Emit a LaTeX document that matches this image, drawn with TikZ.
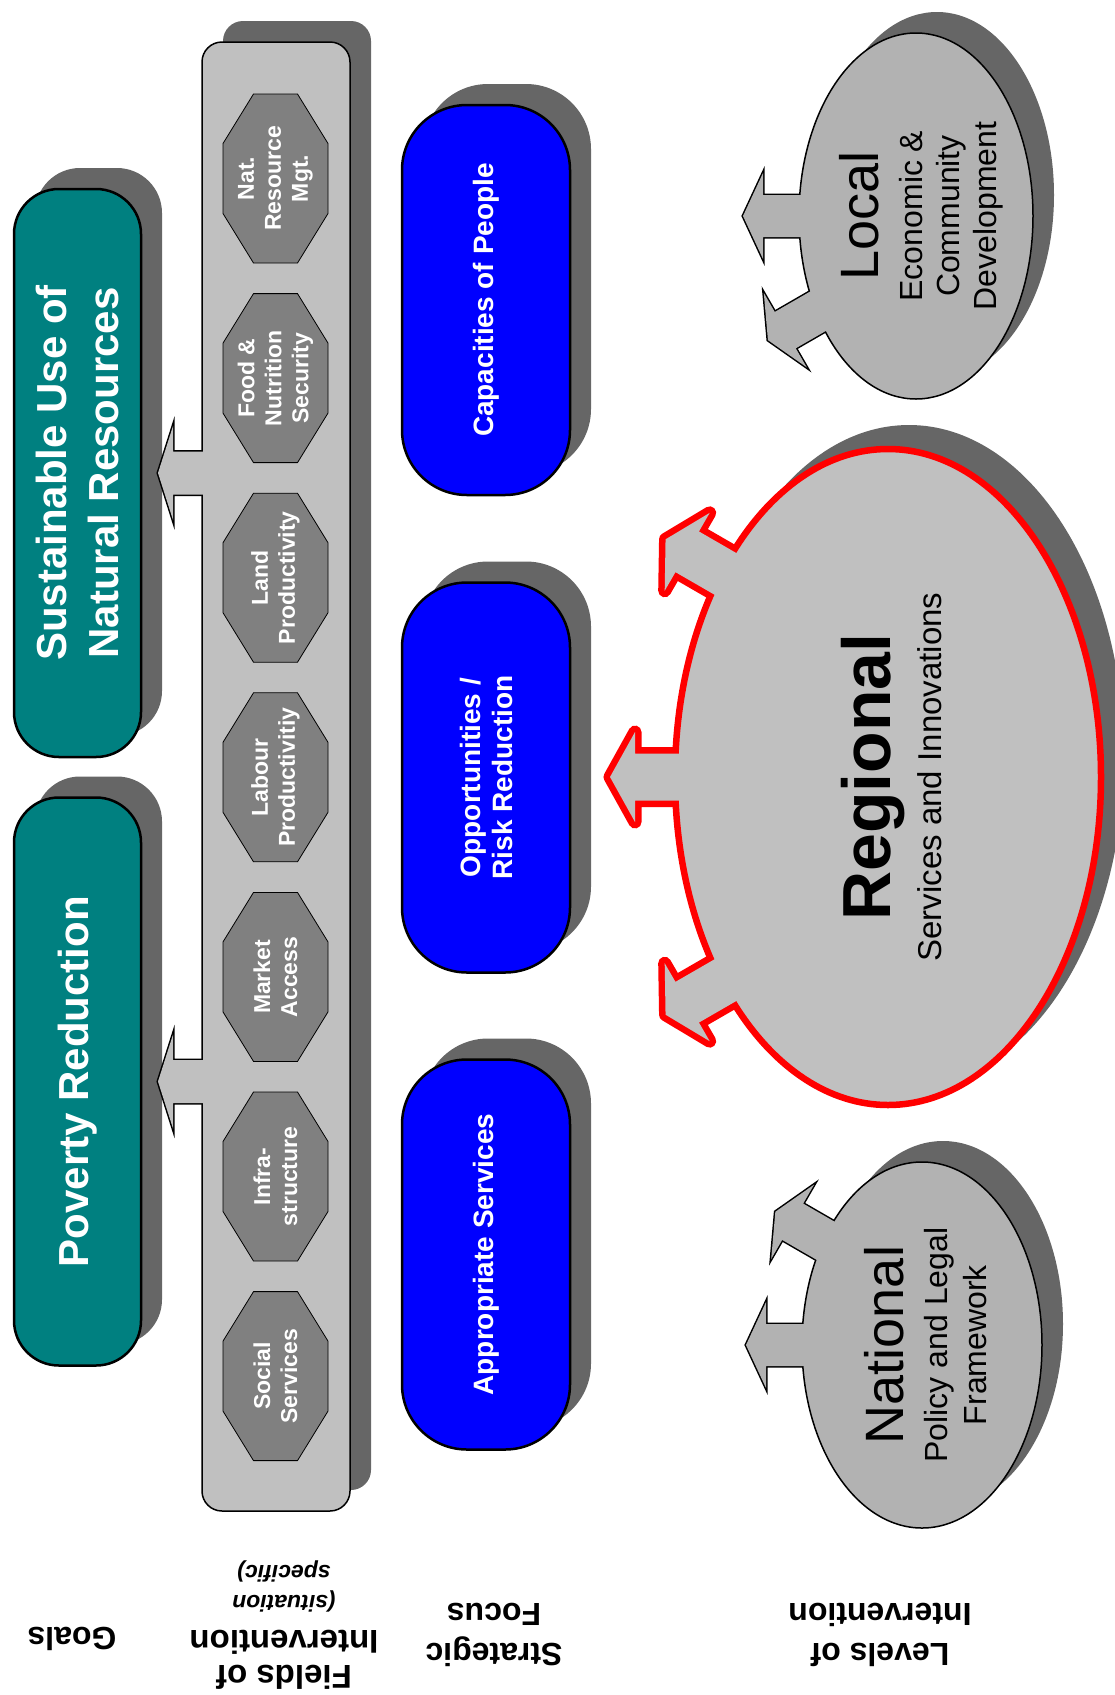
\documentclass[tikz,border=0pt]{standalone}
\usepackage{fontspec}
\setmainfont{Liberation Sans}
\usetikzlibrary{shapes.geometric,backgrounds}

\definecolor{goalteal}{HTML}{008080}
\definecolor{focusblue}{HTML}{0000FF}
\definecolor{shadowgray}{HTML}{666666}
\definecolor{barfill}{HTML}{C0C0C0}
\definecolor{octfill}{HTML}{808080}
\definecolor{levelfill}{HTML}{B2B2B2}

\newcommand{\fsz}[2]{\fontsize{#1}{#2}\selectfont}
% block arrow pointing to -x, its base tucked into the shape it leaves
\newcommand{\blockarrow}[4]{(12,-#2) -- (-#1,-#2) -- (-#1,-#3) -- ({-#1-#4},0) -- (-#1,#3) -- (-#1,#2) -- (12,#2) -- cycle}

\begin{document}
\begin{tikzpicture}[x=1pt, y=-1pt,
		goalbox/.style={rectangle, rounded corners=45pt, rotate=90, minimum width=568pt, minimum height=127pt, inner sep=0pt, outer sep=0pt, fill=goalteal, draw=black, line width=2.5pt, text=white, align=center, font=\fsz{42}{52}\bfseries},
		focusbox/.style={rectangle, rounded corners=65pt, rotate=90, minimum width=390pt, minimum height=168pt, inner sep=0pt, outer sep=0pt, fill=focusblue, draw=black, line width=2.5pt, text=white, align=center, font=\fsz{28}{32}\bfseries},
		fieldbar/.style={rectangle, rounded corners=20pt, minimum width=148pt, minimum height=1469pt, inner sep=0pt, outer sep=0pt, fill=barfill, draw=black, line width=1.5pt},
		fieldoct/.style={fill=octfill, draw=black, line width=0.8pt},
		fieldtext/.style={rotate=90, text=white, align=center, font=\fsz{23}{27}\bfseries},
		levelblob/.style={ellipse, inner sep=0pt, outer sep=0pt, fill=levelfill, draw=black, line width=1.5pt},
		leveltext/.style={rotate=90, align=center, font=\fsz{32}{37}},
		rowhead/.style={rotate=180, align=center, font=\fsz{32}{40}\bfseries},
		dropfill/.style={fill=shadowgray}
		]
		
		\useasboundingbox (0,0) rectangle (1115,1695);
		
		% goals
		\node[goalbox] (sustain) at (77.5,473) {Sustainable Use of\\Natural Resources};
		\node[goalbox] (poverty) at (77.5,1081.5) {Poverty Reduction};
		
		% fields of intervention
		\node[fieldbar] (fields) at (276,776.5) {};
		\foreach \lbl [count=\i] in {{Nat.\\Resource\\Mgt.}, {Food \&\\Nutrition\\Security}, {Land\\Productivity}, {Labour\\Productivitiy}, {Market\\Access}, {Infra-\\structure}, {Social\\Services}}{
			\coordinate (c\i) at (275.5,{178.5+199.6*(\i-1)});
			\filldraw[fieldoct, shift={(c\i)}] (-52.5,-35) -- (-22,-84.5) -- (22,-84.5) -- (52.5,-35) -- (52.5,35) -- (22,84.5) -- (-22,84.5) -- (-52.5,35) -- cycle;
			\node[fieldtext] (f\i) at (c\i) {\lbl};
		}
		
		% strategic focus
		\node[focusbox] (capacity) at (486,300) {Capacities of People};
		\node[focusbox] (opportunity) at (486,777.5) {Opportunities /\\Risk Reduction};
		\node[focusbox] (services) at (486,1254.5) {Appropriate Services};
		
		% levels of intervention
		\node[levelblob, minimum width=234pt, minimum height=366pt] (local) at (916,216) {};
		\node[levelblob, minimum width=426pt, minimum height=656pt, fill=barfill, draw=red, line width=6.5pt] (regional) at (888,777) {};
		\node[levelblob, minimum width=240pt, minimum height=366pt] (national) at (922,1345) {};
		
		\begin{pgfonlayer}{background}
			\foreach \b/\r in {sustain/45, poverty/45, fields/20, capacity/65, opportunity/65, services/65}
			\fill[dropfill, rounded corners=\r pt] ([shift={(21,-21)}]\b.south west) rectangle ([shift={(21,-21)}]\b.north east);
			\fill[dropfill] ([shift={(21,-21)}]local.center) ellipse [x radius=117pt, y radius=183pt];
			\fill[dropfill] ([shift={(21,-21)}]regional.center) ellipse [x radius=215pt, y radius=331pt];
			\fill[dropfill] ([shift={(21,-21)}]national.center) ellipse [x radius=120pt, y radius=183pt];
			% arrow outlines, twice as wide: the fill covers the inner half
			\foreach \g in {sustain, poverty}
			\draw[line width=3pt, shift={(fields.west |- \g.center)}] \blockarrow{29}{21.5}{47}{15};
			\draw[line width=3pt, shift={(local.west)}] \blockarrow{36}{21}{43}{20};
			\draw[line width=3pt, shift={(local.224)}, rotate=30] \blockarrow{36}{21}{43}{20};
			\draw[line width=3pt, shift={(national.west)}] \blockarrow{36}{21}{43}{20};
			\draw[line width=3pt, shift={(national.133)}, rotate=-30] \blockarrow{36}{21}{43}{20};
			\draw[red, line width=13pt, line join=round, shift={(regional.west)}] \blockarrow{40}{23.5}{45}{25};
			\draw[red, line width=13pt, line join=round, shift={(regional.129)}, rotate=-30] \blockarrow{40}{23.5}{45}{25};
			\draw[red, line width=13pt, line join=round, shift={(regional.231)}, rotate=30] \blockarrow{40}{23.5}{45}{25};
		\end{pgfonlayer}
		
		% arrow bodies
		\foreach \g in {sustain, poverty}
		\fill[barfill, shift={(fields.west |- \g.center)}] \blockarrow{29}{21.5}{47}{15};
		\fill[levelfill, shift={(local.west)}] \blockarrow{36}{21}{43}{20};
		\fill[levelfill, shift={(local.224)}, rotate=30] \blockarrow{36}{21}{43}{20};
		\fill[levelfill, shift={(national.west)}] \blockarrow{36}{21}{43}{20};
		\fill[levelfill, shift={(national.133)}, rotate=-30] \blockarrow{36}{21}{43}{20};
		\fill[barfill, shift={(regional.west)}] \blockarrow{40}{23.5}{45}{25};
		\fill[barfill, shift={(regional.129)}, rotate=-30] \blockarrow{40}{23.5}{45}{25};
		\fill[barfill, shift={(regional.231)}, rotate=30] \blockarrow{40}{23.5}{45}{25};
		
		\node[leveltext] (localtxt) at ([xshift=5pt]local.center) {{\fsz{54}{60}Local}\\[7pt]Economic \&\\Community\\Development};
		\node[leveltext, font=\fsz{33}{40}] (regionaltxt) at ([xshift=4pt]regional.center) {{\fsz{68}{70}\bfseries Regional}\\[11pt]Services and Innovations};
		\node[leveltext, font=\fsz{32}{39}] (nationaltxt) at ([xshift=4pt]national.center) {{\fsz{54}{60}National}\\[5pt]Policy and Legal\\Framework};
		
		% row heads
		\node[rowhead] (goalshead) at (72,1639) {Goals};
		\node[rowhead, font=\fsz{33}{35}\bfseries] (fieldshead) at (284,1625) {Fields of\\Intervention\\{\fsz{23}{27}\itshape (situation}\\[-5pt]{\fsz{23}{27}\itshape specific)}};
		\node[rowhead] (focushead) at (494,1635) {Strategic\\Focus};
		\node[rowhead] (levelshead) at (880,1635) {Levels of\\Intervention};
		
	\end{tikzpicture}
\end{document}
